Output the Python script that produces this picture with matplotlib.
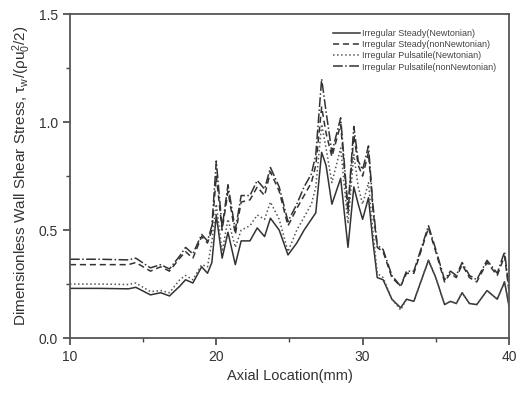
import matplotlib
matplotlib.use("Agg")
import matplotlib.pyplot as plt

plt.rcParams["font.family"] = ["Liberation Sans", "DejaVu Sans"]
plt.rcParams["mathtext.fontset"] = "custom"
plt.rcParams["mathtext.rm"] = "Liberation Sans"
plt.rcParams["mathtext.it"] = "Liberation Sans"

x = [10, 12, 14, 14.5, 15.5, 16.2, 16.8, 17.5, 17.9, 18.4, 19.0, 19.4, 19.7,
     20.0, 20.4, 20.8, 21.3, 21.7, 22.3, 22.8, 23.3, 23.7, 24.3, 24.9, 25.5,
     26.0, 26.5, 26.8, 27.2, 27.5, 27.9, 28.5, 29.0, 29.4, 29.7, 30.0, 30.4,
     30.7, 31.0, 31.4, 32.0, 32.6, 33.0, 33.5, 34.5, 35.0, 35.6, 36.0, 36.4,
     36.8, 37.3, 37.8, 38.5, 39.2, 39.7, 40.0]

steady_newt = [0.23, 0.23, 0.228, 0.235, 0.20, 0.21, 0.195, 0.24, 0.27, 0.255,
               0.33, 0.30, 0.35, 0.57, 0.37, 0.49, 0.34, 0.45, 0.45, 0.51,
               0.47, 0.555, 0.50, 0.385, 0.44, 0.50, 0.55, 0.58, 0.86, 0.80,
               0.62, 0.74, 0.42, 0.70, 0.62, 0.55, 0.65, 0.45, 0.28, 0.27,
               0.18, 0.14, 0.18, 0.17, 0.36, 0.28, 0.155, 0.17, 0.16, 0.21,
               0.16, 0.155, 0.22, 0.18, 0.26, 0.15]

steady_nonnewt = [0.34, 0.34, 0.34, 0.35, 0.31, 0.33, 0.31, 0.37, 0.40, 0.37,
                  0.47, 0.44, 0.50, 0.75, 0.50, 0.68, 0.48, 0.63, 0.64, 0.70,
                  0.66, 0.77, 0.68, 0.52, 0.60, 0.66, 0.72, 0.80, 1.07, 0.95,
                  0.84, 0.99, 0.58, 0.94, 0.80, 0.75, 0.86, 0.60, 0.42, 0.40,
                  0.28, 0.24, 0.30, 0.30, 0.51, 0.40, 0.26, 0.30, 0.28, 0.34,
                  0.28, 0.26, 0.35, 0.29, 0.38, 0.22]

pulsatile_newt = [0.25, 0.25, 0.248, 0.255, 0.215, 0.22, 0.21, 0.27, 0.29, 0.27,
                  0.34, 0.33, 0.45, 0.62, 0.40, 0.55, 0.42, 0.50, 0.52, 0.57,
                  0.55, 0.63, 0.55, 0.40, 0.50, 0.56, 0.62, 0.70, 0.99, 0.88,
                  0.72, 0.88, 0.53, 0.85, 0.70, 0.62, 0.72, 0.50, 0.30, 0.28,
                  0.18, 0.13, 0.18, 0.17, 0.36, 0.28, 0.155, 0.17, 0.16, 0.21,
                  0.16, 0.155, 0.22, 0.18, 0.26, 0.15]

pulsatile_nonnewt = [0.365, 0.365, 0.362, 0.37, 0.325, 0.34, 0.32, 0.38, 0.42, 0.39,
                     0.48, 0.45, 0.52, 0.82, 0.51, 0.71, 0.50, 0.66, 0.66, 0.73,
                     0.69, 0.79, 0.70, 0.54, 0.62, 0.70, 0.76, 0.85, 1.20, 1.05,
                     0.86, 1.02, 0.60, 0.98, 0.82, 0.78, 0.89, 0.62, 0.43, 0.41,
                     0.29, 0.24, 0.31, 0.31, 0.52, 0.41, 0.27, 0.31, 0.29, 0.35,
                     0.29, 0.27, 0.36, 0.30, 0.40, 0.23]

fig = plt.figure(figsize=(5.22, 3.94), dpi=100)
ax = fig.add_axes([0.134, 0.142, 0.841, 0.822])

c = "#333333"
ax.plot(x, steady_newt, "-", color=c, lw=1.1, label="Irregular Steady(Newtonian)")
ax.plot(x, steady_nonnewt, color=c, lw=1.1, dashes=(4, 2.5), label="Irregular Steady(nonNewtonian)")
ax.plot(x, pulsatile_newt, ":", color="#555555", lw=1.1, label="Irregular Pulsatile(Newtonian)")
ax.plot(x, pulsatile_nonnewt, "-.", color=c, lw=1.1, label="Irregular Pulsatile(nonNewtonian)")

ax.set_xlim(10, 40)
ax.set_ylim(0, 1.5)
ax.set_xticks([10, 20, 30, 40])
ax.set_xticks([15, 25, 35], minor=True)
ax.set_yticks([0.0, 0.5, 1.0, 1.5])
ax.set_yticks([0.25, 0.75, 1.25], minor=True)
ax.set_yticklabels(["0.0", "0.5", "1.0", "1.5"])
ax.tick_params(which="major", direction="out", length=5, width=1.2, colors="#444444",
               labelcolor="#333333", labelsize=10)
ax.tick_params(which="minor", direction="out", length=3, width=1.0, colors="#444444")
for s in ax.spines.values():
    s.set_color("#555555")
    s.set_linewidth(1.3)

ax.set_xlabel("Axial Location(mm)", fontsize=10.5, color="#333333")
ax.set_ylabel(r"Dimensionless Wall Shear Stress, $\tau_w/(\rho u_0^2/2)$",
              fontsize=11, color="#333333")

ax.legend(loc="upper right", bbox_to_anchor=(0.99, 0.98), frameon=False, fontsize=6.5,
          handlelength=3.0, handletextpad=0.3, labelspacing=0.25, labelcolor="#444444")

fig.savefig("out.png", dpi=100)
